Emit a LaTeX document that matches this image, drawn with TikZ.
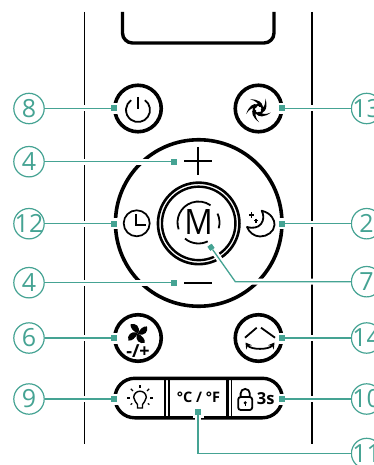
\documentclass[tikz,border=0pt]{standalone}
\usepackage{fontspec}
\setmainfont{Open Sans}
\usetikzlibrary{arrows.meta}
\definecolor{tealc}{HTML}{45A393}
\tikzset{
  num/.style={circle,draw=tealc,line width=1.2pt,minimum size=30.4pt,inner sep=0pt,text=tealc,font=\fontsize{25}{25}\selectfont},
  sq/.style={rectangle,fill=tealc,minimum size=6pt,inner sep=0pt},
  sqhalo/.style={rectangle,fill=white,minimum size=11pt,inner sep=0pt},
  halo/.style={draw=white,line width=6pt},
  lead/.style={draw=tealc,line width=1.3pt},
  btn/.style={circle,draw=black,line width=3.6pt,minimum size=46.5pt,inner sep=0pt},
  rail/.style={draw=black,line width=1.8pt},
  ico/.style={draw=black,line width=1.8pt},
  heavy/.style={draw=black,line width=3.4pt}
}
\newcommand{\lbl}[1]{\makebox[0pt]{#1}}
\begin{document}
\begin{tikzpicture}[x=1pt,y=-1pt]
\clip (0,0) rectangle (374,465);
\fill[white] (0,0) rectangle (374,465);
% body rails and display
\draw[rail] (84.5,12) -- (84.5,444);
\draw[rail] (312,12) -- (312,444);
\draw[heavy,rounded corners=10pt] (122.5,12) -- (122.5,43) -- (274,43) -- (274,12);
% round buttons
\node[btn] (b8) at (138,108.5) {};
\node[btn] (b13) at (258.5,108.5) {};
\node[btn] (b6) at (138,338) {};
\node[btn] (b14) at (258.5,338) {};
% big ring
\node[circle,draw=black,line width=3.6pt,minimum size=166.5pt,inner sep=0pt] (ring) at (198.7,223) {};
\node[circle,draw=black,line width=2.6pt,minimum size=81.5pt,inner sep=0pt] (mo) at (198.7,223.4) {};
\node[circle,draw=black,line width=2.4pt,minimum size=73.5pt,inner sep=0pt] (mi) at (198.7,223.4) {};
\node[xscale=.9,font=\fontsize{35}{35}\selectfont] (mm) at (198.7,222) {M};
\begin{scope}[shift={(198.5,222.5)},y=1pt]
 \draw[ico] (199:21) arc (199:55:21);
 \draw[ico] (25:21) arc (25:-16:21);
 \draw[ico] (-64:21) arc (-64:-130:21);
\end{scope}
% plus and minus
\draw[draw=black,line width=2.3pt] (184,161) -- (212,161);
\draw[draw=black,line width=2.3pt] (198,147) -- (198,174.5);
\draw[draw=black,line width=2.3pt] (184,283) -- (212,283);
% power icon
\begin{scope}[shift={(138,110)},y=1pt]
 \draw[ico] (55:12) arc (55:-235:12);
 \draw[ico] (0,13) -- (0,1);
\end{scope}
% swirl icon
\begin{scope}[shift={(258.3,109.3)},y=1pt]
 \draw[ico,line width=2pt] (0,0) circle (4.5);
 \foreach \a in {0,72,144,216,288}{
  \fill[black,rotate=\a] (3.5,-3.5) .. controls (8,-2) and (9.5,3) .. (7,11) .. controls (7.5,5) and (5.5,1.5) .. (2.5,0) -- cycle;
 }
\end{scope}
% clock icon
\node[circle,draw=black,line width=1.7pt,minimum size=26pt,inner sep=0pt] (clk) at (136.7,223.3) {};
\draw[ico] (136.2,214) -- (136.2,225) -- (145.7,225);
% moon icon
\draw[ico,line join=round] (261.7,210.7) .. controls (271,213) and (275,220) .. (274.5,225)
  .. controls (274,232) and (267,236.5) .. (260,236.5)
  .. controls (254,236.5) and (249,232) .. (247,227)
  .. controls (252,228.5) and (258,228) .. (261,224)
  .. controls (264,220) and (264,215) .. (261.7,210.7) -- cycle;
\draw[black,line width=1.1pt] (249,215) -- (254.4,215) (251.7,212.3) -- (251.7,217.7);
\draw[black,line width=1.1pt] (254,220.7) -- (258,220.7) (256,218.7) -- (256,222.7);
% fan icon
\begin{scope}[shift={(137.7,333.5)},y=1pt,scale=.88]
 \foreach \a in {0,90,180,270}{
  \fill[black,rotate=\a] (0.5,0) .. controls (-5,2) and (-9,7) .. (-8,10.5) .. controls (-3,12.5) and (4,8) .. (0.5,0) -- cycle;
 }
\end{scope}
\node[font=\fontsize{18}{18}\selectfont\bfseries] (ft) at (138,351) {-/+};
% wave icon
\draw[ico] (245,337.7) -- (256.7,327.7);
\draw[ico] (261,327.7) -- (275,337.7);
\draw[ico,{Stealth[length=6pt,width=7pt]}-{Stealth[length=6pt,width=7pt]}] (245.5,342.5) .. controls (251,350) and (269,350) .. (274.5,342.5);
% pill row
\draw[heavy,rounded corners=19.7pt] (115,378.3) rectangle (282.2,417.8);
\draw[draw=black,line width=1.5pt] (165,378) -- (165,418);
\draw[draw=black,line width=2.2pt] (168.8,378) -- (168.8,418);
\draw[draw=black,line width=2.5pt] (227.7,378) -- (227.7,418);
\draw[draw=black,line width=1.2pt] (231.7,378) -- (231.7,418);
% bulb
\begin{scope}[shift={(140,398)},y=1pt]
 \draw[ico,line width=1.4pt] (-2.5,-10) -- (-2.5,-6.5) .. controls (-3,-4.5) and (-6.3,-3) .. (-6.3,0.5) arc (180:0:6.3) .. controls (6.3,-3) and (3,-4.5) .. (2.5,-6.5) -- (2.5,-10) -- cycle;
 \foreach \a in {0,45,90,135,180}{
  \draw[ico,line width=1.4pt] (\a:10) -- (\a:13);
 }
 \draw[ico,line width=1.2pt] (215:9.5) -- (215:11.5) (-35:9.5) -- (-35:11.5);
\end{scope}
\node[font=\fontsize{14.5}{15}\selectfont\bfseries] (tf) at (198.5,397.5) {°C / °F};
% lock
\begin{scope}[shift={(245.2,397)},y=1pt]
 \draw[ico,rounded corners=2.5pt] (-7,0) rectangle (7,-13);
 \draw[ico] (-4.6,0) -- (-4.6,3.5) arc (180:0:4.6) -- (4.6,0);
 \fill[black] (0,-5.8) circle (1.7);
 \fill[black] (-0.6,-5.8) rectangle (0.6,-9);
\end{scope}
\node[font=\fontsize{16.5}{17}\selectfont\bfseries] (ts) at (265.8,398.5) {3s};
% numbered labels
\node[num] (n8) at (29,108.5) {\lbl{8}};
\node[num] (n13) at (366.6,108.5) {\lbl{13}};
\node[num] (n4a) at (29,161.7) {\lbl{4}};
\node[num] (n12) at (29,223.7) {\lbl{12}};
\node[num] (n2) at (366.6,223.7) {\lbl{2}};
\node[num] (n4b) at (29,282.7) {\lbl{4}};
\node[num] (n7) at (366.6,281.7) {\lbl{7}};
\node[num] (n6) at (29,338) {\lbl{6}};
\node[num] (n14) at (366.6,338) {\lbl{14}};
\node[num] (n9) at (29,399) {\lbl{9}};
\node[num] (n10) at (366.6,399) {\lbl{10}};
\node[num] (n11) at (366.6,453.5) {\lbl{11}};
% square markers
\foreach \nm/\x/\y in {s8/114/108.5,s13/282/108.5,s4a/173.7/161.7,s12/114/223.7,s2/282/223.7,s4b/173.7/282.7,s6/114/338,s14/282/338,s9/114/399,s10/282/399,s11/198/412}{
  \node[sqhalo] at (\x,\y) {};
  \node[sq] (\nm) at (\x,\y) {};
}
\coordinate (k7) at (235.3,281.7);
\coordinate (k11) at (198,453.5);
\node[sq,rotate=35,minimum size=5pt] (s7) at (211,247.3) {};
% leaders
\foreach \a/\b in {n8/s8,n13/s13,n4a/s4a,n12/s12,n2/s2,n4b/s4b,n6/s6,n14/s14,n9/s9,n10/s10}{
  \path[halo] (\a) -- (\b);
  \path[lead] (\a) -- (\b);
}
\path[halo] (n7) -- (k7) -- (s7);
\path[lead] (n7) -- (k7) -- (s7);
\path[halo] (n11) -- (k11) -- (s11);
\path[lead] (n11) -- (k11) -- (s11);
\node[sq,rotate=35,minimum size=5pt] at (211,247.3) {};
\node[sq] at (198,412) {};
\foreach \x/\y in {114/108.5,282/108.5,173.7/161.7,114/223.7,282/223.7,173.7/282.7,114/338,282/338,114/399,282/399}{
  \node[sq] at (\x,\y) {};
}
\end{tikzpicture}
\end{document}
